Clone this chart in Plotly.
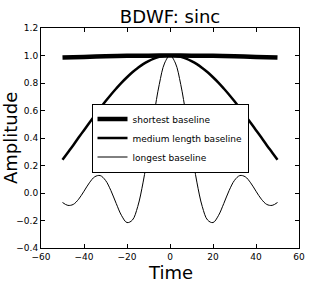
import plotly.graph_objects as go

# Time samples
x_long = [-50, -47.5, -45, -42.5, -40, -37.5, -35, -32.5, -30, -27.5, -25, -22.5, -20, -17.5, -15, -12.5, -10, -7.5, -5, -2.5,
          0, 2.5, 5, 7.5, 10, 12.5, 15, 17.5, 20, 22.5, 25, 27.5, 30, 32.5, 35, 37.5, 40, 42.5, 45, 47.5, 50]
y_long = [-0.069, -0.090, -0.083, -0.045, 0.013, 0.074, 0.118, 0.127, 0.092, 0.018, -0.077, -0.165, -0.215, -0.197, -0.098, 0.079, 0.313, 0.564, 0.789, 0.945,
          1.0, 0.945, 0.789, 0.564, 0.313, 0.079, -0.098, -0.197, -0.215, -0.165, -0.077, 0.018, 0.092, 0.127, 0.118, 0.074, 0.013, -0.045, -0.083, -0.090, -0.069]

x_med = x_long
y_med = [0.242, 0.295, 0.348, 0.403, 0.457, 0.511, 0.564, 0.616, 0.667, 0.715, 0.760, 0.803, 0.842, 0.878, 0.909, 0.937, 0.959, 0.977, 0.990, 0.997,
         1.0, 0.997, 0.990, 0.977, 0.959, 0.937, 0.909, 0.878, 0.842, 0.803, 0.760, 0.715, 0.667, 0.616, 0.564, 0.511, 0.457, 0.403, 0.348, 0.295, 0.242]

x_short = [-50, -40, -30, -20, -10, 0, 10, 20, 30, 40, 50]
y_short = [0.985, 0.990, 0.995, 0.998, 0.999, 1.0, 0.999, 0.998, 0.995, 0.990, 0.985]

names = ["shortest baseline", "medium length baseline", "longest baseline"]

x_ticks = [-60, -40, -20, 0, 20, 40, 60]
y_ticks = [-0.4, -0.2, 0.0, 0.2, 0.4, 0.6, 0.8, 1.0, 1.2]

fig = go.Figure()
fig.add_trace(go.Scatter(x=x_short, y=y_short, mode="lines", name=names[0],
                         line=dict(color="black", width=4.5, shape="spline")))
fig.add_trace(go.Scatter(x=x_med, y=y_med, mode="lines", name=names[1],
                         line=dict(color="black", width=2.5, shape="spline")))
fig.add_trace(go.Scatter(x=x_long, y=y_long, mode="lines", name=names[2],
                         line=dict(color="black", width=1, shape="spline")))

axis_common = dict(showline=True, linecolor="black", linewidth=1, mirror="ticks",
                   ticks="inside", ticklen=4, tickcolor="black", showgrid=False,
                   zeroline=False, tickfont=dict(size=9, color="black"), automargin=False)

fig.update_layout(
    width=332, height=285,
    margin=dict(l=41, r=33, t=28, b=37),
    paper_bgcolor="white", plot_bgcolor="white",
    font=dict(family="DejaVu Sans", color="black"),
    title=dict(text="BDWF: sinc", x=0.5, xref="paper", y=0.94, yanchor="middle",
               font=dict(size=18, color="black")),
    xaxis=dict(range=[-60, 60], tickvals=x_ticks, ticktext=[str(v).replace("-", "\u2212") for v in x_ticks],
               **axis_common),
    yaxis=dict(range=[-0.4, 1.2], tickvals=y_ticks,
               ticktext=[("%.1f" % v).replace("-", "\u2212") for v in y_ticks],
               **axis_common),
    legend=dict(x=0.5, y=0.5, xanchor="center", yanchor="middle",
                bordercolor="black", borderwidth=1, bgcolor="white",
                font=dict(size=9, color="black"), tracegroupgap=0, itemwidth=30),
    showlegend=True,
    annotations=[
        dict(text="Time", xref="paper", yref="paper", x=0.5, y=-0.11, yanchor="middle",
             xanchor="center", showarrow=False, font=dict(size=18, color="black")),
        dict(text="Amplitude", xref="paper", yref="paper", x=-0.12, y=0.5, xanchor="center",
             yanchor="middle", textangle=-90, showarrow=False, font=dict(size=18, color="black")),
    ],
)

fig.write_html("out.html", config={"displayModeBar": False},
               post_script="document.body.style.margin='0';document.body.style.padding='0';")
